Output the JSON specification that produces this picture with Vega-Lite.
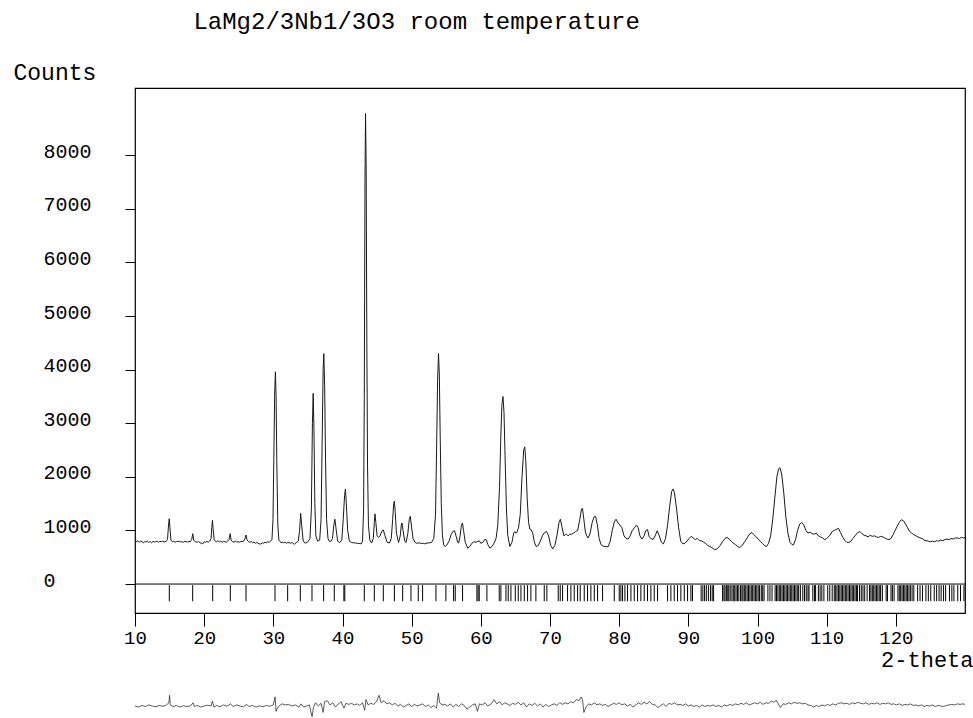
{
"$schema": "https://vega.github.io/schema/vega-lite/v6.json",
"background": "white",
"padding": {"left": 12, "top": 10, "right": 0, "bottom": 0},
"title": {"text": "LaMg2/3Nb1/3O3 room temperature", "anchor": "start", "frame": "bounds", "dx": 181, "font": "Liberation Mono", "fontSize": 24, "fontWeight": "normal", "color": "black", "offset": 26},
"config": {"view": {"stroke": "black", "strokeWidth": 1.2}, "font": "Liberation Mono"},
"spacing": 17,
"datasets": {
"obs": [
{"t":10.0,"c":820},{"t":10.2,"c":790},{"t":10.4,"c":805},{"t":10.6,"c":780},{"t":10.8,"c":800},{"t":11.0,"c":795},{"t":11.2,"c":770},{"t":11.4,"c":790},{"t":11.6,"c":785},{"t":11.8,"c":800},{"t":12.0,"c":780},{"t":12.2,"c":790},{"t":12.4,"c":770},{"t":12.6,"c":795},{"t":12.8,"c":785},{"t":13.0,"c":790},{"t":13.2,"c":800},{"t":13.4,"c":780},{"t":13.6,"c":795},{"t":13.8,"c":790},{"t":14.0,"c":800},{"t":14.2,"c":785},{"t":14.5,"c":795},{"t":14.7,"c":830},{"t":14.85,"c":1100},{"t":14.95,"c":1220},{"t":15.05,"c":1050},{"t":15.2,"c":820},{"t":15.4,"c":790},
{"t":15.6,"c":800},{"t":15.8,"c":780},{"t":16.0,"c":795},{"t":16.2,"c":790},{"t":16.4,"c":800},{"t":16.6,"c":785},{"t":16.8,"c":790},{"t":17.0,"c":780},{"t":17.2,"c":800},{"t":17.4,"c":790},{"t":17.6,"c":785},{"t":17.8,"c":795},{"t":18.0,"c":790},{"t":18.2,"c":830},{"t":18.35,"c":940},{"t":18.5,"c":820},{"t":18.7,"c":790},
{"t":19.0,"c":780},{"t":19.2,"c":795},{"t":19.4,"c":770},{"t":19.6,"c":760},{"t":19.8,"c":750},{"t":20.0,"c":790},{"t":20.2,"c":780},{"t":20.4,"c":795},{"t":20.6,"c":780},{"t":20.8,"c":800},{"t":21.0,"c":850},{"t":21.1,"c":1050},{"t":21.2,"c":1190},{"t":21.3,"c":1020},{"t":21.45,"c":830},{"t":21.6,"c":800},{"t":21.8,"c":790},{"t":22.0,"c":810},{"t":22.2,"c":785},{"t":22.4,"c":800},{"t":22.6,"c":780},{"t":22.8,"c":795},{"t":23.0,"c":790},{"t":23.2,"c":780},{"t":23.4,"c":800},{"t":23.6,"c":830},{"t":23.75,"c":940},{"t":23.9,"c":820},{"t":24.1,"c":790},{"t":24.3,"c":780},{"t":24.5,"c":800},{"t":24.7,"c":785},{"t":24.9,"c":790},{"t":25.1,"c":780},{"t":25.3,"c":795},{"t":25.5,"c":790},{"t":25.7,"c":800},{"t":25.9,"c":850},{"t":26.05,"c":915},{"t":26.2,"c":820},{"t":26.4,"c":790},{"t":26.6,"c":780},{"t":26.8,"c":795},{"t":27.0,"c":770},{"t":27.2,"c":785},{"t":27.4,"c":760},{"t":27.6,"c":775},{"t":27.8,"c":760},{"t":28.0,"c":750},{"t":28.2,"c":745},{"t":28.4,"c":770},{"t":28.6,"c":760},{"t":28.8,"c":780},{"t":29.0,"c":770},{"t":29.2,"c":790},{"t":29.4,"c":780},{"t":29.6,"c":800},{"t":29.8,"c":830},{"t":29.95,"c":1200},{"t":30.1,"c":2600},{"t":30.2,"c":3600},{"t":30.3,"c":3960},{"t":30.4,"c":3500},{"t":30.5,"c":2300},{"t":30.65,"c":1100},{"t":30.8,"c":820},
{"t":31.0,"c":790},{"t":31.1,"c":770},{"t":31.3,"c":780},{"t":31.5,"c":770},{"t":31.7,"c":785},{"t":31.9,"c":760},{"t":32.1,"c":775},{"t":32.3,"c":770},{"t":32.5,"c":760},{"t":32.7,"c":780},{"t":32.9,"c":750},{"t":33.05,"c":745},{"t":33.3,"c":770},{"t":33.6,"c":800},{"t":33.8,"c":1000},{"t":33.95,"c":1320},{"t":34.1,"c":1100},{"t":34.3,"c":820},{"t":34.5,"c":770},{"t":34.7,"c":765},{"t":35.0,"c":790},{"t":35.3,"c":850},{"t":35.5,"c":1400},{"t":35.65,"c":3000},{"t":35.76,"c":3560},{"t":35.87,"c":2900},{"t":36.0,"c":1500},{"t":36.15,"c":900},{"t":36.4,"c":800},{"t":36.7,"c":820},{"t":36.9,"c":1200},{"t":37.05,"c":2600},{"t":37.2,"c":4000},{"t":37.3,"c":4300},{"t":37.42,"c":3700},{"t":37.55,"c":2300},{"t":37.7,"c":1200},{"t":37.9,"c":850},{"t":38.1,"c":800},{"t":38.3,"c":795},{"t":38.55,"c":850},{"t":38.75,"c":1100},{"t":38.9,"c":1210},{"t":39.05,"c":1050},{"t":39.3,"c":800},{"t":39.6,"c":775},{"t":39.9,"c":820},{"t":40.1,"c":1200},{"t":40.3,"c":1650},{"t":40.42,"c":1775},{"t":40.55,"c":1500},{"t":40.75,"c":1000},{"t":41.0,"c":800},{"t":41.3,"c":775},{"t":41.6,"c":770},{"t":41.9,"c":765},{"t":42.2,"c":760},{"t":42.5,"c":755},{"t":42.7,"c":750},{"t":42.9,"c":800},{"t":43.05,"c":1400},{"t":43.15,"c":3500},{"t":43.25,"c":7500},{"t":43.33,"c":8780},{"t":43.42,"c":7800},{"t":43.52,"c":4500},{"t":43.62,"c":2200},{"t":43.75,"c":1100},{"t":43.95,"c":820},
{"t":44.2,"c":765},{"t":44.45,"c":850},{"t":44.6,"c":1150},{"t":44.7,"c":1310},{"t":44.82,"c":1150},{"t":45.0,"c":900},{"t":45.2,"c":870},{"t":45.4,"c":890},{"t":45.7,"c":990},{"t":45.9,"c":1010},{"t":46.15,"c":900},{"t":46.45,"c":780},{"t":46.8,"c":765},{"t":47.05,"c":850},{"t":47.25,"c":1200},{"t":47.4,"c":1500},{"t":47.5,"c":1545},{"t":47.62,"c":1350},{"t":47.8,"c":950},{"t":48.1,"c":775},{"t":48.35,"c":900},{"t":48.5,"c":1100},{"t":48.6,"c":1140},{"t":48.75,"c":1000},{"t":49.0,"c":800},{"t":49.2,"c":775},{"t":49.45,"c":950},{"t":49.65,"c":1200},{"t":49.8,"c":1265},{"t":49.95,"c":1100},{"t":50.2,"c":850},{"t":50.5,"c":775},{"t":50.8,"c":760},{"t":51.1,"c":770},{"t":51.4,"c":755},{"t":51.7,"c":760},{"t":51.9,"c":750},{"t":52.2,"c":765},{"t":52.6,"c":770},{"t":52.9,"c":780},{"t":53.2,"c":850},{"t":53.45,"c":1300},{"t":53.6,"c":2500},{"t":53.75,"c":3800},{"t":53.88,"c":4300},{"t":54.0,"c":3900},{"t":54.12,"c":2800},{"t":54.28,"c":1500},{"t":54.45,"c":900},{"t":54.65,"c":720},{"t":54.85,"c":700},{"t":55.1,"c":730},{"t":55.4,"c":800},{"t":55.7,"c":920},{"t":55.95,"c":980},{"t":56.2,"c":995},{"t":56.45,"c":880},{"t":56.65,"c":780},{"t":56.8,"c":765},{"t":57.0,"c":900},{"t":57.2,"c":1100},{"t":57.35,"c":1140},{"t":57.5,"c":1000},{"t":57.75,"c":780},{"t":58.1,"c":670},{"t":58.4,"c":700},{"t":58.7,"c":760},{"t":59.0,"c":790},{"t":59.3,"c":780},{"t":59.6,"c":800},{"t":59.8,"c":805},{"t":60.0,"c":760},{"t":60.3,"c":780},{"t":60.55,"c":830},{"t":60.8,"c":825},{"t":61.0,"c":740},{"t":61.3,"c":670},{"t":61.6,"c":700},{"t":61.9,"c":760},{"t":62.2,"c":850},{"t":62.45,"c":1100},{"t":62.7,"c":1800},{"t":62.9,"c":2800},{"t":63.05,"c":3350},{"t":63.2,"c":3500},{"t":63.35,"c":3200},{"t":63.5,"c":2400},{"t":63.7,"c":1400},{"t":63.9,"c":900},{"t":64.2,"c":700},{"t":64.5,"c":780},{"t":64.75,"c":950},{"t":64.9,"c":980},{"t":65.05,"c":950},{"t":65.2,"c":960},{"t":65.45,"c":1050},{"t":65.7,"c":1300},{"t":65.95,"c":2000},{"t":66.2,"c":2500},{"t":66.35,"c":2560},{"t":66.5,"c":2300},{"t":66.7,"c":1600},{"t":66.9,"c":1150},{"t":67.1,"c":1020},{"t":67.3,"c":1010},{"t":67.5,"c":950},{"t":67.75,"c":780},{"t":68.0,"c":700},{"t":68.3,"c":720},{"t":68.6,"c":800},{"t":68.9,"c":900},{"t":69.2,"c":960},{"t":69.5,"c":980},{"t":69.8,"c":900},{"t":70.1,"c":720},{"t":70.4,"c":655},{"t":70.7,"c":720},{"t":71.0,"c":900},{"t":71.3,"c":1150},{"t":71.5,"c":1210},{"t":71.75,"c":1050},{"t":72.0,"c":900},{"t":72.2,"c":920},{"t":72.4,"c":930},{"t":72.6,"c":900},{"t":72.85,"c":930},{"t":73.1,"c":930},{"t":73.4,"c":950},{"t":73.7,"c":980},{"t":74.0,"c":1000},{"t":74.3,"c":1200},{"t":74.55,"c":1400},{"t":74.7,"c":1410},{"t":74.9,"c":1200},{"t":75.1,"c":980},{"t":75.3,"c":900},{"t":75.5,"c":860},{"t":75.8,"c":950},{"t":76.1,"c":1150},{"t":76.4,"c":1260},{"t":76.6,"c":1260},{"t":76.85,"c":1100},{"t":77.1,"c":850},{"t":77.4,"c":730},{"t":77.8,"c":700},{"t":78.1,"c":700},{"t":78.4,"c":695},{"t":78.7,"c":800},{"t":79.0,"c":1000},{"t":79.3,"c":1160},{"t":79.55,"c":1210},{"t":79.8,"c":1150},{"t":80.1,"c":1100},{"t":80.4,"c":1050},{"t":80.7,"c":900},{"t":81.0,"c":850},{"t":81.3,"c":840},{"t":81.6,"c":900},{"t":81.9,"c":1000},{"t":82.2,"c":1050},{"t":82.5,"c":1100},{"t":82.75,"c":1050},{"t":83.0,"c":900},{"t":83.3,"c":840},{"t":83.6,"c":900},{"t":83.85,"c":1000},{"t":84.1,"c":1015},{"t":84.35,"c":880},{"t":84.6,"c":850},{"t":84.9,"c":830},{"t":85.2,"c":900},{"t":85.5,"c":995},{"t":85.8,"c":900},{"t":86.1,"c":780},{"t":86.4,"c":750},{"t":86.7,"c":850},{"t":87.0,"c":1100},{"t":87.3,"c":1450},{"t":87.6,"c":1730},{"t":87.8,"c":1775},{"t":88.0,"c":1700},{"t":88.3,"c":1400},{"t":88.6,"c":1050},{"t":88.9,"c":800},{"t":89.2,"c":750},{"t":89.5,"c":760},{"t":89.8,"c":800},{"t":90.1,"c":850},{"t":90.4,"c":890},{"t":90.7,"c":860},{"t":91.0,"c":830},{"t":91.3,"c":850},{"t":91.6,"c":810},{"t":91.9,"c":806},{"t":92.2,"c":780},{"t":92.5,"c":760},{"t":92.8,"c":720},{"t":93.1,"c":700},{"t":93.4,"c":680},{"t":93.8,"c":640},{"t":94.2,"c":660},{"t":94.6,"c":720},{"t":95.0,"c":800},{"t":95.3,"c":850},{"t":95.6,"c":870},{"t":95.9,"c":840},{"t":96.2,"c":800},{"t":96.5,"c":760},{"t":96.8,"c":740},{"t":97.1,"c":700},{"t":97.4,"c":680},{"t":97.8,"c":720},{"t":98.2,"c":800},{"t":98.6,"c":880},{"t":98.9,"c":940},{"t":99.2,"c":960},{"t":99.5,"c":920},{"t":99.8,"c":880},{"t":100.1,"c":840},{"t":100.4,"c":800},{"t":100.7,"c":760},{"t":101.0,"c":720},{"t":101.3,"c":700},{"t":101.6,"c":760},{"t":101.9,"c":900},{"t":102.2,"c":1200},{"t":102.5,"c":1600},{"t":102.8,"c":2000},{"t":103.05,"c":2150},{"t":103.25,"c":2170},{"t":103.5,"c":2050},{"t":103.8,"c":1700},{"t":104.1,"c":1250},{"t":104.4,"c":950},{"t":104.7,"c":780},{"t":105.0,"c":735},{"t":105.2,"c":730},{"t":105.5,"c":830},{"t":105.8,"c":1000},{"t":106.1,"c":1120},{"t":106.4,"c":1150},{"t":106.7,"c":1100},{"t":107.0,"c":1000},{"t":107.3,"c":950},{"t":107.6,"c":970},{"t":107.9,"c":940},{"t":108.2,"c":930},{"t":108.5,"c":950},{"t":108.8,"c":900},{"t":109.1,"c":880},{"t":109.4,"c":860},{"t":109.7,"c":830},{"t":110.0,"c":850},{"t":110.4,"c":900},{"t":110.8,"c":980},{"t":111.1,"c":1000},{"t":111.4,"c":1020},{"t":111.7,"c":1040},{"t":112.0,"c":960},{"t":112.3,"c":880},{"t":112.6,"c":820},{"t":112.9,"c":780},{"t":113.2,"c":775},{"t":113.5,"c":800},{"t":113.8,"c":850},{"t":114.1,"c":900},{"t":114.4,"c":950},{"t":114.8,"c":980},{"t":115.1,"c":940},{"t":115.4,"c":910},{"t":115.7,"c":900},{"t":116.0,"c":880},{"t":116.3,"c":910},{"t":116.6,"c":890},{"t":116.9,"c":900},{"t":117.2,"c":880},{"t":117.5,"c":870},{"t":117.8,"c":890},{"t":118.1,"c":880},{"t":118.4,"c":860},{"t":118.7,"c":840},{"t":119.0,"c":830},{"t":119.3,"c":850},{"t":119.6,"c":920},{"t":119.9,"c":1000},{"t":120.2,"c":1080},{"t":120.5,"c":1150},{"t":120.8,"c":1200},{"t":121.1,"c":1180},{"t":121.4,"c":1120},{"t":121.7,"c":1050},{"t":122.0,"c":980},{"t":122.3,"c":950},{"t":122.6,"c":920},{"t":122.9,"c":900},{"t":123.2,"c":880},{"t":123.5,"c":860},{"t":123.8,"c":850},{"t":124.1,"c":820},{"t":124.4,"c":810},{"t":124.7,"c":800},{"t":125.0,"c":790},{"t":125.3,"c":800},{"t":125.6,"c":790},{"t":125.9,"c":810},{"t":126.2,"c":800},{"t":126.5,"c":820},{"t":126.8,"c":810},{"t":127.1,"c":830},{"t":127.4,"c":840},{"t":127.7,"c":830},{"t":128.0,"c":850},{"t":128.3,"c":840},{"t":128.6,"c":860},{"t":128.9,"c":860},{"t":129.2,"c":850},{"t":129.5,"c":870},{"t":129.8,"c":860},{"t":130.0,"c":870}
],
"bragg": [
{"t":14.96},{"t":18.34},{"t":21.23},{"t":23.78},{"t":26.05},{"t":30.24},{"t":32.07},{"t":33.9},{"t":35.59},{"t":37.27},{"t":38.81},{"t":40.2},{"t":40.33},{"t":43.15},{"t":44.6},{"t":45.9},{"t":47.5},{"t":48.7},{"t":49.9},{"t":50.95},{"t":51.58},{"t":53.51},{"t":54.95},{"t":56.06},{"t":56.3},{"t":57.36},{"t":59.43},{"t":59.6},{"t":59.77},{"t":60.88},{"t":62.66},{"t":62.9},{"t":63.63},{"t":63.96},{"t":64.35},{"t":64.98},{"t":65.41},{"t":65.8},{"t":66.28},{"t":66.76},{"t":67.24},{"t":67.96},{"t":69.17},{"t":69.55},{"t":71.19},{"t":71.48},{"t":71.82},{"t":72.54},{"t":73.02},{"t":73.5},{"t":73.99},{"t":74.37},{"t":74.95},{"t":75.43},{"t":75.91},{"t":76.4},{"t":76.88},{"t":77.6},{"t":79.29},{"t":80.01},{"t":80.25},{"t":80.49},{"t":80.83},{"t":81.21},{"t":81.7},{"t":82.18},{"t":82.66},{"t":83.14},{"t":83.62},{"t":84.1},{"t":84.59},{"t":85.07},{"t":85.55},{"t":87.0},{"t":87.48},{"t":87.96},{"t":88.44},{"t":88.92},{"t":89.41},{"t":89.89},{"t":90.37},{"t":90.6},
{"t":91.85},{"t":92.1},{"t":92.35},{"t":92.6},{"t":92.9},{"t":93.2},{"t":93.45},{"t":93.65},
{"t":94.95},{"t":95.15},{"t":95.3},{"t":95.5},{"t":95.7},{"t":95.85},{"t":96.05},{"t":96.3},{"t":96.5},{"t":96.7},{"t":96.9},{"t":97.1},{"t":97.3},{"t":97.55},{"t":97.75},{"t":97.9},{"t":98.1},{"t":98.3},{"t":98.5},{"t":98.7},{"t":98.9},{"t":99.1},{"t":99.3},{"t":99.5},{"t":99.7},{"t":99.9},{"t":100.1},{"t":100.3},{"t":100.55},{"t":100.75},{"t":100.95},
{"t":101.5},{"t":101.8},{"t":102.1},
{"t":102.55},{"t":102.75},{"t":102.95},{"t":103.15},{"t":103.35},{"t":103.55},{"t":103.75},{"t":103.95},{"t":104.15},{"t":104.35},{"t":104.55},{"t":104.75},{"t":104.95},{"t":105.15},{"t":105.35},{"t":105.55},{"t":105.75},{"t":105.95},{"t":106.2},
{"t":106.55},{"t":106.8},{"t":107.05},{"t":107.3},{"t":107.45},
{"t":108.0},{"t":108.25},{"t":108.4},
{"t":108.8},{"t":109.05},{"t":109.3},{"t":109.6},
{"t":110.15},{"t":110.45},{"t":110.8},
{"t":111.1},{"t":111.3},{"t":111.5},{"t":111.7},{"t":111.9},{"t":112.1},{"t":112.3},{"t":112.5},{"t":112.7},{"t":112.9},{"t":113.1},{"t":113.3},{"t":113.5},{"t":113.7},{"t":113.9},{"t":114.1},{"t":114.3},{"t":114.45},
{"t":114.75},{"t":115.0},{"t":115.25},{"t":115.5},{"t":115.85},
{"t":116.2},{"t":116.4},{"t":116.6},{"t":116.8},{"t":117.0},{"t":117.2},{"t":117.4},{"t":117.6},{"t":117.8},{"t":118.05},
{"t":118.6},{"t":118.8},
{"t":119.3},{"t":119.5},{"t":119.75},
{"t":120.3},{"t":120.5},{"t":120.7},{"t":120.9},{"t":121.1},{"t":121.3},{"t":121.5},{"t":121.7},{"t":121.9},{"t":122.1},{"t":122.35},{"t":122.6},
{"t":123.15},{"t":123.5},{"t":123.85},
{"t":124.35},{"t":124.7},{"t":125.05},
{"t":125.55},{"t":125.9},{"t":126.25},
{"t":126.55},{"t":126.9},{"t":127.2},
{"t":127.75},{"t":128.1},{"t":128.4},
{"t":128.95},{"t":129.35},{"t":129.85}
],
"diff": [
{"t":10,"d":0},{"t":10.5,"d":-20},{"t":11,"d":10},{"t":11.5,"d":-10},{"t":12,"d":20},{"t":12.5,"d":0},{"t":13,"d":-15},{"t":13.5,"d":10},{"t":14,"d":-5},{"t":14.5,"d":15},{"t":14.9,"d":60},{"t":15.0,"d":200},{"t":15.1,"d":20},{"t":15.5,"d":-10},{"t":16,"d":10},{"t":16.5,"d":-20},{"t":17,"d":5},{"t":17.5,"d":-10},{"t":18,"d":0},{"t":18.4,"d":60},{"t":18.6,"d":-10},{"t":19,"d":10},{"t":19.5,"d":-20},{"t":20,"d":0},{"t":20.5,"d":15},{"t":21,"d":0},{"t":21.2,"d":90},{"t":21.4,"d":-20},{"t":21.8,"d":10},{"t":22.3,"d":-15},{"t":22.8,"d":20},{"t":23.3,"d":-5},{"t":23.8,"d":40},{"t":24.2,"d":-10},{"t":24.7,"d":20},{"t":25.2,"d":0},{"t":25.7,"d":-15},{"t":26.1,"d":30},{"t":26.5,"d":-10},{"t":27,"d":10},{"t":27.5,"d":-20},{"t":28,"d":5},{"t":28.5,"d":-15},{"t":29,"d":10},{"t":29.5,"d":-5},{"t":30.0,"d":20},{"t":30.25,"d":170},{"t":30.4,"d":-100},{"t":30.6,"d":-40},{"t":30.9,"d":10},{"t":31.3,"d":40},{"t":31.7,"d":20},{"t":32.2,"d":30},{"t":32.7,"d":0},{"t":33.2,"d":20},{"t":33.7,"d":-20},{"t":34.0,"d":40},{"t":34.4,"d":-20},{"t":34.8,"d":0},{"t":35.2,"d":20},{"t":35.6,"d":-200},{"t":35.8,"d":-30},{"t":36.1,"d":60},{"t":36.5,"d":0},{"t":36.9,"d":50},{"t":37.2,"d":-120},{"t":37.4,"d":80},{"t":37.8,"d":100},{"t":38.2,"d":20},{"t":38.6,"d":60},{"t":39.0,"d":-20},{"t":39.4,"d":40},{"t":39.8,"d":80},{"t":40.2,"d":-40},{"t":40.5,"d":50},{"t":40.9,"d":30},{"t":41.3,"d":50},{"t":41.7,"d":20},{"t":42.1,"d":40},{"t":42.5,"d":10},{"t":42.9,"d":60},{"t":43.2,"d":-80},{"t":43.4,"d":120},{"t":43.7,"d":20},{"t":44.1,"d":50},{"t":44.5,"d":30},{"t":44.9,"d":80},{"t":45.3,"d":200},{"t":45.6,"d":60},{"t":46.0,"d":100},{"t":46.4,"d":40},{"t":46.8,"d":60},{"t":47.2,"d":20},{"t":47.6,"d":50},{"t":48.0,"d":0},{"t":48.4,"d":30},{"t":48.8,"d":-20},{"t":49.2,"d":10},{"t":49.6,"d":40},{"t":50.0,"d":-10},{"t":50.4,"d":30},{"t":50.8,"d":0},{"t":51.2,"d":20},{"t":51.6,"d":40},{"t":52.0,"d":-10},{"t":52.4,"d":20},{"t":52.8,"d":-30},{"t":53.2,"d":10},{"t":53.6,"d":-40},{"t":53.85,"d":240},{"t":54.05,"d":60},{"t":54.4,"d":20},{"t":54.8,"d":30},{"t":55.2,"d":0},{"t":55.6,"d":40},{"t":56.0,"d":-20},{"t":56.4,"d":30},{"t":56.8,"d":-10},{"t":57.2,"d":40},{"t":57.6,"d":10},{"t":58.0,"d":-60},{"t":58.4,"d":-20},{"t":58.8,"d":20},{"t":59.2,"d":40},{"t":59.5,"d":-100},{"t":59.8,"d":40},{"t":60.2,"d":20},{"t":60.6,"d":60},{"t":61.0,"d":0},{"t":61.5,"d":40},{"t":61.9,"d":120},{"t":62.3,"d":40},{"t":62.7,"d":80},{"t":63.1,"d":20},{"t":63.4,"d":60},{"t":63.8,"d":40},{"t":64.2,"d":10},{"t":64.6,"d":50},{"t":65.0,"d":30},{"t":65.4,"d":70},{"t":65.8,"d":20},{"t":66.2,"d":60},{"t":66.6,"d":-20},{"t":67.0,"d":40},{"t":67.4,"d":10},{"t":67.8,"d":50},{"t":68.2,"d":0},{"t":68.6,"d":40},{"t":69.0,"d":-20},{"t":69.4,"d":30},{"t":69.8,"d":-10},{"t":70.2,"d":20},{"t":70.6,"d":40},{"t":71.0,"d":10},{"t":71.4,"d":60},{"t":71.8,"d":30},{"t":72.2,"d":60},{"t":72.6,"d":40},{"t":73.0,"d":80},{"t":73.4,"d":60},{"t":73.8,"d":120},{"t":74.2,"d":100},{"t":74.5,"d":170},{"t":74.7,"d":120},{"t":74.9,"d":-120},{"t":75.2,"d":-20},{"t":75.6,"d":40},{"t":76.0,"d":20},{"t":76.4,"d":60},{"t":76.8,"d":20},{"t":77.2,"d":40},{"t":77.6,"d":10},{"t":78.0,"d":30},{"t":78.4,"d":-10},{"t":78.8,"d":20},{"t":79.2,"d":50},{"t":79.6,"d":30},{"t":80.0,"d":60},{"t":80.4,"d":20},{"t":80.8,"d":40},{"t":81.2,"d":0},{"t":81.6,"d":30},{"t":82.0,"d":-20},{"t":82.4,"d":20},{"t":82.8,"d":60},{"t":83.2,"d":30},{"t":83.6,"d":70},{"t":84.0,"d":40},{"t":84.4,"d":80},{"t":84.8,"d":30},{"t":85.2,"d":20},{"t":85.6,"d":-30},{"t":86.0,"d":10},{"t":86.4,"d":40},{"t":86.8,"d":-10},{"t":87.2,"d":50},{"t":87.6,"d":30},{"t":88.0,"d":60},{"t":88.4,"d":20},{"t":88.8,"d":30},{"t":89.2,"d":10},{"t":89.6,"d":40},{"t":90.0,"d":0},{"t":90.4,"d":20},{"t":90.8,"d":-10},{"t":91.2,"d":10},{"t":91.6,"d":-20},{"t":92.0,"d":20},{"t":92.4,"d":-10},{"t":92.8,"d":10},{"t":93.2,"d":0},{"t":93.6,"d":20},{"t":94.0,"d":-10},{"t":94.4,"d":10},{"t":94.8,"d":-20},{"t":95.2,"d":20},{"t":95.6,"d":0},{"t":96.0,"d":30},{"t":96.4,"d":10},{"t":96.8,"d":40},{"t":97.2,"d":20},{"t":97.6,"d":50},{"t":98.0,"d":30},{"t":98.4,"d":60},{"t":98.8,"d":20},{"t":99.2,"d":40},{"t":99.6,"d":60},{"t":100.0,"d":40},{"t":100.4,"d":70},{"t":100.8,"d":30},{"t":101.2,"d":60},{"t":101.6,"d":50},{"t":102.0,"d":90},{"t":102.4,"d":70},{"t":102.7,"d":110},{"t":103.0,"d":40},{"t":103.3,"d":-30},{"t":103.7,"d":40},{"t":104.1,"d":30},{"t":104.5,"d":60},{"t":104.9,"d":40},{"t":105.3,"d":70},{"t":105.7,"d":50},{"t":106.1,"d":60},{"t":106.5,"d":40},{"t":106.9,"d":50},{"t":107.3,"d":20},{"t":107.7,"d":10},{"t":108.1,"d":-20},{"t":108.5,"d":10},{"t":108.9,"d":-10},{"t":109.3,"d":20},{"t":109.7,"d":0},{"t":110.1,"d":30},{"t":110.5,"d":10},{"t":110.9,"d":40},{"t":111.3,"d":20},{"t":111.7,"d":50},{"t":112.1,"d":60},{"t":112.5,"d":40},{"t":112.9,"d":50},{"t":113.3,"d":30},{"t":113.7,"d":60},{"t":114.1,"d":40},{"t":114.5,"d":70},{"t":114.9,"d":50},{"t":115.3,"d":40},{"t":115.7,"d":60},{"t":116.1,"d":30},{"t":116.5,"d":50},{"t":116.9,"d":40},{"t":117.3,"d":60},{"t":117.7,"d":30},{"t":118.1,"d":50},{"t":118.5,"d":40},{"t":118.9,"d":60},{"t":119.3,"d":30},{"t":119.7,"d":40},{"t":120.1,"d":20},{"t":120.5,"d":40},{"t":120.9,"d":10},{"t":121.3,"d":30},{"t":121.7,"d":20},{"t":122.1,"d":40},{"t":122.5,"d":10},{"t":122.9,"d":20},{"t":123.3,"d":0},{"t":123.7,"d":20},{"t":124.1,"d":-10},{"t":124.5,"d":10},{"t":124.9,"d":0},{"t":125.3,"d":20},{"t":125.7,"d":-10},{"t":126.1,"d":10},{"t":126.5,"d":0},{"t":126.9,"d":-10},{"t":127.3,"d":10},{"t":127.7,"d":20},{"t":128.1,"d":30},{"t":128.5,"d":20},{"t":128.9,"d":40},{"t":129.3,"d":30},{"t":129.7,"d":40},{"t":130,"d":30}
]
},
"vconcat": [
{
"width": 830,
"height": 525,
"layer": [
{
"data": {"name": "obs"},
"mark": {"type": "line", "color": "#1a1a1a", "strokeWidth": 1, "clip": true},
"encoding": {
"x": {"field": "t", "type": "quantitative", "scale": {"domain": [10, 130], "nice": false, "zero": false},
"axis": {"values": [10,20,30,40,50,60,70,80,90,100,110,120], "title": "2-theta", "titleAlign": "right", "titleX": 838, "titleY": 53, "titleBaseline": "alphabetic", "titleFont": "Liberation Mono", "titleFontSize": 22, "titleFontWeight": "normal", "titleColor": "black", "labelFont": "Liberation Mono", "labelFontSize": 19, "labelColor": "black", "labelPadding": 2, "labelFlush": false, "labelOverlap": false, "tickSize": 13, "tickColor": "black", "tickWidth": 1, "domain": false, "grid": false, "format": "d"}},
"y": {"field": "c", "type": "quantitative", "scale": {"domain": [-540, 9255], "nice": false, "zero": false},
"axis": {"values": [0,1000,2000,3000,4000,5000,6000,7000,8000], "title": "Counts", "titleAngle": 0, "titleAlign": "left", "titleBaseline": "alphabetic", "titleX": -122, "titleY": -9, "titleFont": "Liberation Mono", "titleFontSize": 23, "titleFontWeight": "normal", "titleColor": "black", "labelFont": "Liberation Mono", "labelFontSize": 20, "labelColor": "black", "labelAlign": "left", "labelBaseline": "alphabetic", "labelOffset": 2, "labelPadding": 82, "labelOverlap": false, "tickSize": 10, "tickColor": "black", "tickWidth": 1, "domain": false, "grid": false, "format": "d"}}
}
},
{
"data": {"values": [{}]},
"mark": {"type": "rule", "color": "black", "strokeWidth": 1},
"encoding": {"y": {"datum": 0, "type": "quantitative"}}
},
{
"data": {"name": "bragg"},
"mark": {"type": "rule", "color": "black", "strokeWidth": 1, "opacity": 1},
"encoding": {
"x": {"field": "t", "type": "quantitative"},
"y": {"datum": -20, "type": "quantitative"},
"y2": {"datum": -320}
}
}
]
},
{
"width": 830,
"height": 30,
"view": {"stroke": null},
"data": {"name": "diff"},
"mark": {"type": "line", "color": "#333333", "strokeWidth": 0.8},
"encoding": {
"x": {"field": "t", "type": "quantitative", "scale": {"domain": [10, 130], "nice": false, "zero": false}, "axis": null},
"y": {"field": "d", "type": "quantitative", "scale": {"domain": [-224, 336], "nice": false, "zero": false}, "axis": null}
}
}
]
}
